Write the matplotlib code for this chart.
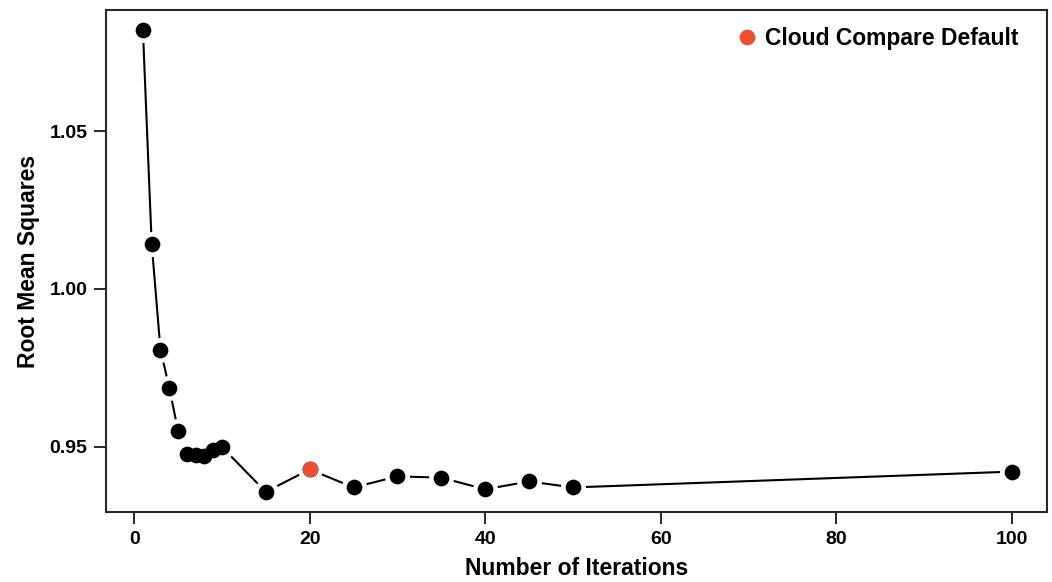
import matplotlib
matplotlib.use("Agg")
import matplotlib.pyplot as plt

plt.rcParams['font.family'] = ['Liberation Sans', 'DejaVu Sans']
plt.rcParams['font.weight'] = 'bold'

iterations = [1, 2, 3, 4, 5, 6, 7, 8, 9, 10, 15, 20, 25, 30, 35, 40, 45, 50, 100]
rms = [1.0819, 1.0143, 0.9808, 0.9688, 0.9552, 0.9478, 0.9476, 0.9473, 0.9489, 0.9500,
       0.9358, 0.9429, 0.9372, 0.9407, 0.9403, 0.9366, 0.9391, 0.9372, 0.9422]
default_iter = [20]
default_rms = [0.9429]

fig = plt.figure(figsize=(10.52, 5.82), dpi=100)
ax = fig.add_axes([0.1008, 0.1203, 0.8944, 0.8625])

# connecting line
ax.plot(iterations, rms, color='black', lw=1.5, zorder=1)
# white halos that break the line around each point
ax.plot(iterations, rms, linestyle='none', marker='o', markersize=18,
        markerfacecolor='white', markeredgewidth=0, zorder=2)
# points
ax.plot(iterations, rms, linestyle='none', marker='o', markersize=11.3,
        markerfacecolor='black', markeredgewidth=0, zorder=3)
ax.plot(default_iter, default_rms, linestyle='none', marker='o', markersize=11.3,
        markerfacecolor='#F04E2F', markeredgewidth=0,
        zorder=4, label='Cloud Compare Default')

ax.set_xlim(-3.2, 104)
ax.set_ylim(0.92943, 1.08829)
ax.set_xticks([0, 20, 40, 60, 80, 100])
ax.set_yticks([0.95, 1.00, 1.05])
ax.set_yticklabels(['0.95', '1.00', '1.05'])

for s in ax.spines.values():
    s.set_linewidth(1.5)
    s.set_color('#2a2a2a')
ax.tick_params(direction='out', length=8.5, width=1.4, color='#2a2a2a', labelsize=14, pad=5)
for lab in ax.get_xticklabels() + ax.get_yticklabels():
    lab.set_fontweight('bold')

ax.set_xlabel('Number of Iterations', fontsize=16.5, fontweight='bold', labelpad=6.5)
ax.set_ylabel('Root Mean Squares', fontsize=16.5, fontweight='bold', labelpad=7)

leg = ax.legend(loc='upper right', frameon=False, handletextpad=0.2, handlelength=1.2,
                prop={'weight': 'bold', 'size': 16.5}, markerscale=1.0,
                borderaxespad=0.6, bbox_to_anchor=(0.994, 1.012))

fig.savefig('out.png', dpi=100)
